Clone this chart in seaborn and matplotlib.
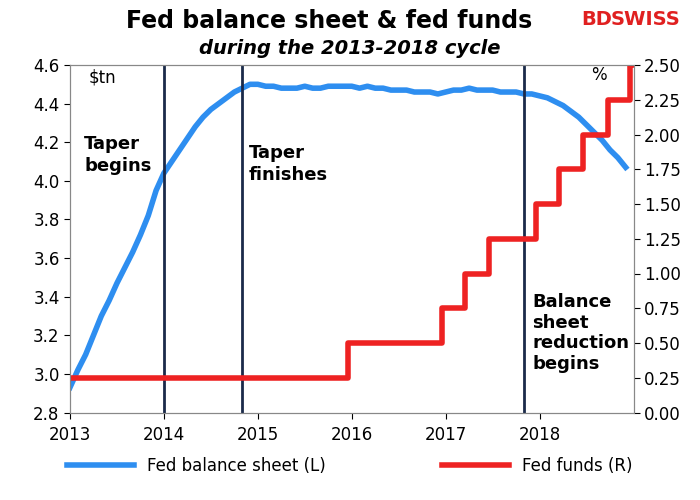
import matplotlib
matplotlib.use("Agg")
import matplotlib.pyplot as plt
import seaborn as sns
import pandas as pd
import numpy as np

# Monthly Fed balance sheet ($tn), Jan 2013 .. Dec 2018
bs_dates = [2013 + i/12 for i in range(72)]
bs_values = [2.93, 3.02, 3.10, 3.20, 3.30, 3.38, 3.47, 3.55, 3.63, 3.72, 3.82, 3.95,
             4.04, 4.10, 4.16, 4.22, 4.28, 4.33, 4.37, 4.40, 4.43, 4.46, 4.48, 4.50,
             4.50, 4.49, 4.49, 4.48, 4.48, 4.48, 4.49, 4.48, 4.48, 4.49, 4.49, 4.49,
             4.49, 4.48, 4.49, 4.48, 4.48, 4.47, 4.47, 4.47, 4.46, 4.46, 4.46, 4.45,
             4.46, 4.47, 4.47, 4.48, 4.47, 4.47, 4.47, 4.46, 4.46, 4.46, 4.45, 4.45,
             4.44, 4.43, 4.41, 4.39, 4.36, 4.33, 4.29, 4.25, 4.21, 4.16, 4.12, 4.07]
ff_dates = [2013.0, 2015.96, 2016.96, 2017.21, 2017.46, 2017.96, 2018.21, 2018.46, 2018.73, 2018.96, 2019.0]
ff_values = [0.25, 0.50, 0.75, 1.00, 1.25, 1.50, 1.75, 2.00, 2.25, 2.50, 2.50]
events = [2014.0, 2014.83, 2017.83]

bs = pd.DataFrame({"date": bs_dates, "value": bs_values})
ff = pd.DataFrame({"date": ff_dates, "value": ff_values})

fig, ax = plt.subplots(figsize=(7, 5), dpi=100)
fig.subplots_adjust(left=0.10, right=0.905, top=0.87, bottom=0.175)
sns.lineplot(data=bs, x="date", y="value", ax=ax, color="#2e8ef0", lw=4, label="Fed balance sheet (L)", legend=False)
ax2 = ax.twinx()
ax2.step(ff["date"], ff["value"], where="post", color="#ee2222", lw=4, label="Fed funds (R)")
for e in events:
    ax.axvline(e, color="#1b2a4a", lw=2)

ax.set_xlim(2013, 2019)
ax.set_ylim(2.8, 4.6)
ax2.set_ylim(0, 2.5)
ax.set_xticks(range(2013, 2019))
ax.set_yticks(np.arange(2.8, 4.61, 0.2))
ax.set_yticklabels([f"{v:.1f}" for v in np.arange(2.8, 4.61, 0.2)])
ax2.set_yticks(np.arange(0, 2.51, 0.25))
ax2.set_yticklabels([f"{v:.2f}" for v in np.arange(0, 2.51, 0.25)])
for a in (ax, ax2):
    a.tick_params(labelsize=12, length=4)
    for s in a.spines.values():
        s.set_color("#888888")
ax.set_xlabel(""); ax.set_ylabel("")
ax.tick_params(axis="x", pad=6)

ax.text(2013.2, 4.58, "$tn", fontsize=12, va="top")
ax2.text(2018.55, 2.49, "%", fontsize=12, va="top")
ax.text(2013.15, 4.24, "Taper\nbegins", fontsize=13, fontweight="bold", va="top", linespacing=1.3)
ax.text(2014.9, 4.19, "Taper\nfinishes", fontsize=13, fontweight="bold", va="top", linespacing=1.3)
ax.text(2017.92, 3.42, "Balance\nsheet\nreduction\nbegins", fontsize=13, fontweight="bold", va="top", linespacing=1.2)

fig.text(0.47, 0.945, "Fed balance sheet & fed funds", fontsize=17, fontweight="bold", ha="center")
fig.text(0.5, 0.893, "during the 2013-2018 cycle", fontsize=14, fontweight="bold", style="italic", ha="center")
fig.text(0.83, 0.95, "BD", fontsize=14, fontweight="bold", color="#e02020", ha="left")
fig.text(0.873, 0.95, "SWISS", fontsize=14, fontweight="bold", color="#e02020", ha="left")

h1, l1 = ax.get_legend_handles_labels()
h2, l2 = ax2.get_legend_handles_labels()
fig.legend(h1 + h2, l1 + l2, loc="lower center", ncol=2, frameon=False, fontsize=12,
           bbox_to_anchor=(0.5, 0.02), handlelength=4, columnspacing=7)
fig.savefig("out.png", dpi=100)
